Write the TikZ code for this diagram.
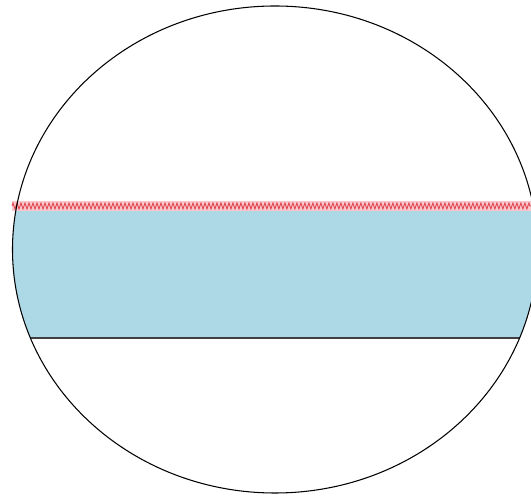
\documentclass[tikz,border=0pt]{standalone}
\usepackage{xcolor}
\usepackage{tikz}
\usetikzlibrary{decorations.pathmorphing}
\definecolor{cBand}{RGB}{173,216,230}
\definecolor{cSeam}{RGB}{225,70,80}
\definecolor{cSeamBg}{RGB}{250,200,205}

\begin{document}
\begin{tikzpicture}[x=0.02cm, y=0.02cm, line width=0.6pt]
	\clip (0,0) rectangle (531,496);
	\begin{scope}
		\clip (275,246.5) ellipse [x radius=262.5, y radius=243.5];
		\fill[cBand] (0,158) rectangle (531,286);
		\draw[black!75] (0,158) -- (531,158);
	\end{scope}
	\fill[cSeamBg] (12,285) rectangle (531,295);
	\draw[cSeam, line width=0.5pt, decorate, decoration={zigzag, amplitude=0.06cm, segment length=0.08cm}] (12,290) -- (531,290);
	\draw (275,246.5) ellipse [x radius=262.5, y radius=243.5];
\end{tikzpicture}
\end{document}
